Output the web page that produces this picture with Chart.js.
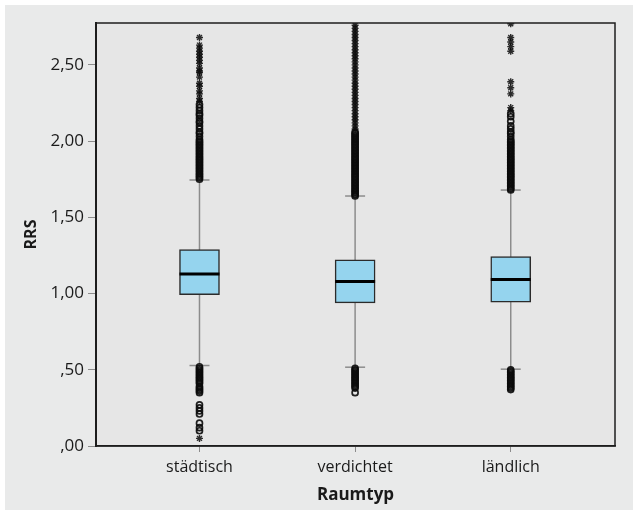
<!DOCTYPE html>
<html>
<head>
<meta charset="utf-8">
<script src="https://cdn.jsdelivr.net/npm/chart.js@4.4.1/dist/chart.umd.min.js"></script>
<style>
  html, body { margin: 0; padding: 0; background: #fff; }
</style>
</head>
<body>
<canvas id="boxChart" width="638" height="515"></canvas>
<script>
// Boxplot values per Raumtyp
const categories = ['städtisch', 'verdichtet', 'ländlich'];
const q1 = [0.993, 0.939, 0.943];
const median = [1.129, 1.079, 1.092];
const q3 = [1.288, 1.221, 1.242];
const whiskerLow = [0.528, 0.517, 0.504];
const whiskerHigh = [1.745, 1.640, 1.679];

// outliers (circles) and extreme values (stars)
const outStaedtisch = [1.75, 1.76, 1.77, 1.78, 1.79, 1.80, 1.81, 1.82, 1.83, 1.84, 1.85, 1.86, 1.87, 1.88,
  1.89, 1.90, 1.91, 1.92, 1.93, 1.94, 1.95, 1.96, 1.97, 1.98, 1.99, 2.00, 2.01, 2.03, 2.05, 2.06, 2.08,
  2.10, 2.12, 2.13, 2.15, 2.17, 2.18, 2.20, 2.22, 2.24,
  0.52, 0.51, 0.50, 0.49, 0.48, 0.47, 0.46, 0.45, 0.44, 0.43, 0.42, 0.41, 0.39, 0.38, 0.37, 0.36, 0.35,
  0.27, 0.25, 0.23, 0.21, 0.15, 0.12, 0.10];
const extStaedtisch = [2.26, 2.28, 2.31, 2.33, 2.36, 2.38, 2.42, 2.45, 2.46, 2.48, 2.51, 2.53, 2.55,
  2.57, 2.59, 2.61, 2.63, 2.68, 0.05];
const outVerdichtet = [1.64, 1.65, 1.66, 1.67, 1.68, 1.69, 1.70, 1.71, 1.72, 1.73, 1.74, 1.75, 1.76, 1.77,
  1.78, 1.79, 1.80, 1.81, 1.82, 1.83, 1.84, 1.85, 1.86, 1.87, 1.88, 1.89, 1.90, 1.91, 1.92, 1.93, 1.94,
  1.95, 1.96, 1.97, 1.98, 1.99, 2.00, 2.01, 2.02, 2.03, 2.04, 2.05, 2.06,
  0.51, 0.50, 0.49, 0.48, 0.47, 0.46, 0.45, 0.44, 0.43, 0.42, 0.41, 0.40, 0.39, 0.38, 0.35];
const extVerdichtet = [2.08, 2.10, 2.12, 2.14, 2.16, 2.18, 2.20, 2.22, 2.24, 2.26, 2.28, 2.30, 2.32, 2.34,
  2.36, 2.38, 2.40, 2.42, 2.44, 2.46, 2.48, 2.50, 2.52, 2.54, 2.56, 2.58, 2.60, 2.62, 2.64, 2.66, 2.68,
  2.70, 2.72, 2.74, 2.76];
const outLaendlich = [1.68, 1.69, 1.70, 1.71, 1.72, 1.73, 1.74, 1.75, 1.76, 1.77, 1.78, 1.79, 1.80, 1.81,
  1.82, 1.83, 1.84, 1.85, 1.86, 1.87, 1.88, 1.89, 1.90, 1.91, 1.92, 1.93, 1.94, 1.95, 1.96, 1.97, 1.98,
  1.99, 2.00, 2.01, 2.03, 2.05, 2.06, 2.08, 2.10, 2.13, 2.16, 2.18,
  0.50, 0.49, 0.48, 0.47, 0.46, 0.45, 0.44, 0.43, 0.42, 0.41, 0.40, 0.39, 0.38, 0.37];
const extLaendlich = [2.20, 2.22, 2.31, 2.35, 2.39, 2.59, 2.62, 2.65, 2.68, 2.77];

const outliers = [outStaedtisch, outVerdichtet, outLaendlich];
const extremes = [extStaedtisch, extVerdichtet, extLaendlich];

const FONT = "'Open Sans', sans-serif";
const whiskerColor = '#8c8c8c';

function pts(list) {
  const out = [];
  list.forEach((vals, i) => vals.forEach(v => out.push({ x: i, y: v })));
  return out;
}

const datasets = [];

// boxes (Q1..Q3)
datasets.push({
  type: 'bar',
  data: categories.map((c, i) => ({ x: i, y: [q1[i], q3[i]] })),
  backgroundColor: '#95d4ee',
  borderColor: '#2b2b2b',
  borderWidth: 1.5,
  borderSkipped: false,
  barThickness: 40,
  order: 3
});

// median lines
datasets.push({
  type: 'scatter',
  data: categories.map((c, i) => ({ x: i, y: median[i] })),
  pointStyle: 'line',
  pointRadius: 20,
  borderColor: '#000',
  pointBorderColor: '#000',
  pointBorderWidth: 3,
  borderWidth: 3,
  order: 1
});

// whisker caps
datasets.push({
  type: 'scatter',
  data: categories.flatMap((c, i) => [{ x: i, y: whiskerLow[i] }, { x: i, y: whiskerHigh[i] }]),
  pointStyle: 'line',
  pointRadius: 10,
  borderColor: whiskerColor,
  pointBorderColor: whiskerColor,
  pointBorderWidth: 1.5,
  order: 5
});

// whisker lines
categories.forEach((c, i) => {
  datasets.push({
    type: 'line',
    data: [{ x: i, y: whiskerLow[i] }, { x: i, y: whiskerHigh[i] }],
    borderColor: whiskerColor,
    borderWidth: 1.5,
    pointRadius: 0,
    order: 6
  });
});

// outliers
datasets.push({
  type: 'scatter',
  data: pts(outliers),
  pointStyle: 'circle',
  pointRadius: 3,
  backgroundColor: 'rgba(0,0,0,0)',
  pointBackgroundColor: 'rgba(0,0,0,0)',
  borderColor: 'rgba(10,10,10,0.9)',
  pointBorderColor: 'rgba(10,10,10,0.9)',
  pointBorderWidth: 1.7,
  order: 4
});
datasets.push({
  type: 'scatter',
  data: pts(extremes),
  pointStyle: 'star',
  pointRadius: 3.5,
  borderColor: 'rgba(10,10,10,0.85)',
  pointBorderColor: 'rgba(10,10,10,0.85)',
  pointBorderWidth: 1.4,
  order: 4
});

const backdrop = {
  id: 'backdrop',
  beforeDraw(chart) {
    const { ctx, chartArea: a } = chart;
    ctx.save();
    ctx.fillStyle = '#e9eaea';
    ctx.fillRect(5, 5, 628, 505);
    ctx.fillStyle = '#e6e6e6';
    ctx.fillRect(a.left, a.top, a.right - a.left, a.bottom - a.top);
    ctx.restore();
  },
  afterDraw(chart) {
    const { ctx, chartArea: a } = chart;
    ctx.save();
    ctx.strokeStyle = '#1e1e1e';
    ctx.lineWidth = 1.5;
    ctx.strokeRect(a.left, a.top, a.right - a.left, a.bottom - a.top);
    ctx.restore();
  }
};

new Chart(document.getElementById('boxChart').getContext('2d'), {
  type: 'bar',
  data: { datasets: datasets },
  plugins: [backdrop],
  options: {
    responsive: false,
    animation: false,
    layout: { padding: { top: 22, right: 6, left: 0, bottom: 0 } },
    plugins: {
      legend: { display: false },
      tooltip: { enabled: false }
    },
    scales: {
      x: {
        type: 'linear',
        offset: false,
        min: -0.665,
        max: 2.67,
        afterFit(scale) { scale.height = 69; },
        ticks: {
          stepSize: 1,
          includeBounds: false,
          padding: 6,
          color: '#1a1a1a',
          font: { family: FONT, size: 16 },
          callback: v => Number.isInteger(v) ? categories[v] : ''
        },
        grid: { offset: false, drawOnChartArea: false, tickLength: 6, color: whiskerColor },
        border: { display: true, color: '#1e1e1e', width: 1.5 },
        title: {
          display: true,
          text: 'Raumtyp',
          color: '#1a1a1a',
          font: { family: FONT, size: 17, weight: 'bold' },
          padding: { top: 0, bottom: 10 }
        }
      },
      y: {
        min: 0,
        max: 2.775,
        afterFit(scale) { scale.width = 96; },
        ticks: {
          stepSize: 0.5,
          includeBounds: false,
          padding: 4,
          color: '#1a1a1a',
          font: { family: FONT, size: 17 },
          callback: v => {
            const s = v.toFixed(2).replace('.', ',');
            return s.startsWith('0') ? s.slice(1) : s;
          }
        },
        grid: { drawOnChartArea: false, tickLength: 8, color: whiskerColor },
        border: { display: true, color: '#1e1e1e', width: 2 },
        title: {
          display: true,
          text: 'RRS',
          color: '#1a1a1a',
          font: { family: FONT, size: 16, weight: 'bold' },
          padding: { top: 22, bottom: 0 }
        }
      }
    }
  }
});
</script>
</body>
</html>
